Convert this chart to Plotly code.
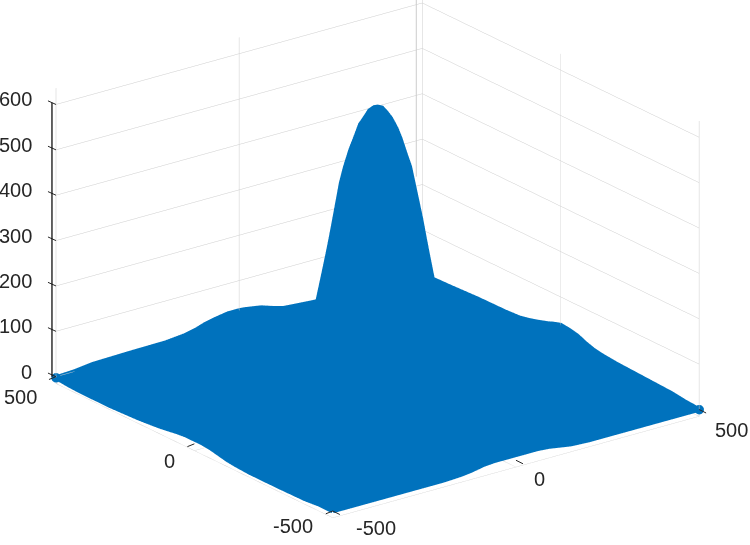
import plotly.graph_objects as go

grid_x = [-500,-450,-400,-300,-200,-150,-120,-90,-60,-45,-30,-15,0,15,30,45,60,90,120,150,200,300,400,450,500]
grid_y = [-500,-450,-400,-300,-200,-150,-120,-90,-60,-45,-30,-15,0,15,30,45,60,90,120,150,200,300,400,450,500]
height = [
 [0,0,0,0,0, 2,5,10,12,12,12,12,12,12,12,12,12,10,6,2, 0,0,0,0,0],
 [0,2,2,2,3, 4,6,10,12,12,13,13,13,13,13,12,12,10,6,4, 3,2,2,2,2],
 [-3,2,3,3,4, 5,7,11,13,13,14,14,14,14,14,13,13,11,7,5, 4,3,3,3,6],
 [-4,2,3,4,5, 6,8,12,14,14,15,15,16,15,15,14,14,12,8,6, 5,4,3,4,9],
 [-4,2,4,5,6, 10,14,20,25,27,28,30,30,30,28,27,25,20,14,10, 6,5,4,5,12],
 [-2,3,5,6,16, 18,40,68,100,110,122,124,125,124,122,110,100,68,40,18, 16,6,6,7,15],
 [0,4,6,8,20, 40,80,135,205,235,255,268,270,268,255,235,205,135,80,40, 20,8,8,9,18],
 [4,6,8,12,24, 68,135,240,335,380,410,430,440,430,410,380,335,240,135,68, 24,12,12,14,24],
 [8,9,10,14,26, 100,205,335,460,500,522,540,548,540,522,500,460,335,205,100, 26,14,14,18,32],
 [9,10,11,15,28, 110,235,380,500,535,562,580,585,580,562,535,500,380,235,110, 28,15,15,19,34],
 [10,11,12,16,29, 122,255,410,522,562,592,606,612,606,592,562,522,410,255,122, 29,16,16,20,36],
 [10,12,13,17,30, 124,268,430,540,580,606,625,630,625,606,580,540,430,268,124, 30,17,17,21,37],
 [10,12,14,18,30, 125,270,440,548,585,612,630,636,630,612,585,548,440,270,125, 30,18,18,22,38],
 [10,12,13,17,30, 124,268,430,540,580,606,625,630,625,606,580,540,430,268,124, 30,17,17,21,35],
 [10,11,12,16,29, 122,255,410,522,562,592,606,612,606,592,562,522,410,255,122, 29,16,16,20,32],
 [9,10,11,15,28, 110,235,380,500,535,562,580,585,580,562,535,500,380,235,110, 28,15,15,18,28],
 [8,9,10,14,26, 100,205,335,460,500,522,540,548,540,522,500,460,335,205,100, 26,14,14,16,25],
 [5,6,8,12,24, 68,135,240,335,380,410,430,440,430,410,380,335,240,135,68, 24,12,12,13,19],
 [2,4,6,8,20, 40,80,135,205,235,255,268,270,268,255,235,205,135,80,40, 20,8,8,9,14],
 [0,3,5,6,16, 18,40,68,100,110,122,124,125,124,122,110,100,68,40,18, 16,6,6,7,10],
 [-3,2,4,5,6, 10,14,20,25,27,28,30,30,30,28,27,25,20,14,10, 6,5,4,5,8],
 [-6,1,3,4,5, 6,8,12,14,15,16,17,18,17,16,15,14,12,8,6, 5,4,3,4,7],
 [-6,1,3,4,5, 6,10,14,18,19,20,20,20,20,20,19,18,14,8,6, 5,4,3,3,4],
 [-5,0,3,5,6, 8,12,18,22,23,24,25,25,25,24,23,22,16,10,8, 6,3,3,3,3],
 [-2,0,5,7,8, 12,17,25,30,32,34,34,34,33,31,29,27,19,12,10, 7,4,3,2,1],
]
xy_ticks = [-500, 0, 500]
z_ticks = [0, 100, 200, 300, 400, 500, 600]

BLUE = "#0072BD"
INK = "#262626"
GRID = "#CDCDCD"
FONT = dict(family="Liberation Sans, Arial, sans-serif", size=20, color=INK)
n = len(grid_x)
edge = [(0, j) for j in range(n)] + [(i, n-1) for i in range(1, n)] + \
       [(n-1, j) for j in range(n-2, -1, -1)] + [(i, 0) for i in range(n-2, -1, -1)]

fig = go.Figure()
fig.add_trace(go.Surface(
    x=grid_x, y=grid_y, z=height,
    colorscale=[[0, BLUE], [1, BLUE]], showscale=False,
    lighting=dict(ambient=1, diffuse=0, specular=0, fresnel=0, roughness=1),
    hoverinfo="skip"))
fig.add_trace(go.Scatter3d(
    x=[grid_x[j] for i, j in edge],
    y=[grid_y[i] for i, j in edge],
    z=[height[i][j] for i, j in edge],
    mode="lines",
    line=dict(color=BLUE, width=9),
    showlegend=False, hoverinfo="skip"))
fig.add_trace(go.Scatter3d(
    x=[grid_x[0], grid_x[-1]], y=[grid_y[-1], grid_y[0]],
    z=[height[-1][0], height[0][-1]],
    mode="markers", marker=dict(color=BLUE, size=5.5, line=dict(width=0)),
    showlegend=False, hoverinfo="skip"))


def axis(rng, ticks):
    return dict(range=rng, tickvals=ticks, title=dict(text=""),
                showgrid=True, gridcolor=GRID, gridwidth=1, zeroline=False,
                showline=False, ticks="", showticklabels=False,
                showbackground=False, showspikes=False)


def label(x, y, z, text, dx, dy, anchor="center"):
    return dict(x=x, y=y, z=z, text=str(text), showarrow=False, font=FONT,
                xanchor=anchor, yanchor="middle", xshift=dx, yshift=-dy)


def mark(x, y, z, ax, ay):
    return dict(x=x, y=y, z=z, showarrow=True, arrowhead=0, arrowwidth=1,
                arrowcolor=INK, ax=ax, ay=ay, standoff=0)


notes = []
notes.append(dict(x=500, y=500, z=636, xshift=-6, showarrow=True, arrowhead=0, arrowwidth=1,
                  arrowcolor=GRID, ax=0, ay=200, standoff=0))
for t in z_ticks:
    notes.append(label(-500, 500, t, t, -22, -5, "right"))
    notes.append(mark(-500, 500, t, -11, -5))
notes.append(dict(x=-500, y=500, z=0, xshift=-4, showarrow=True, arrowhead=0, arrowwidth=1.3,
                  arrowcolor="#111111", ax=0, ay=-284, standoff=0))
y_offsets = {500: (-35, 20), 0: (-25, 17), -500: (-40, 15)}
x_offsets = {-500: (43, 17), 0: (24, 19), 500: (32, 20)}
for t in xy_ticks:
    notes.append(label(-500, t, 0, t, *y_offsets[t]))
    notes.append(mark(-500, t, 0, -10, 4))
    notes.append(label(t, -500, 0, t, *x_offsets[t]))
    notes.append(mark(t, -500, 0, 10, 5))

fig.update_layout(
    width=750, height=545, margin=dict(l=0, r=0, t=0, b=0),
    paper_bgcolor="white", showlegend=False,
    scene=dict(
        domain=dict(x=[0, 1], y=[0, 1]),
        xaxis=axis([-500, 500], xy_ticks),
        yaxis=axis([-500, 500], xy_ticks),
        zaxis=axis([-15, 636], z_ticks),
        aspectmode="manual", aspectratio=dict(x=1.685, y=1.685, z=1.165),
        annotations=notes,
        camera=dict(
            projection=dict(type="orthographic"),
            eye=dict(x=-1.1334, y=-1.4843, z=0.656),
            center=dict(x=-0.0074, y=0.0057, z=-0.080),
            up=dict(x=0, y=0, z=1)),
    ))
fig.write_html("out.html", config={"displayModeBar": False},
               post_script="document.body.style.margin='0';")
